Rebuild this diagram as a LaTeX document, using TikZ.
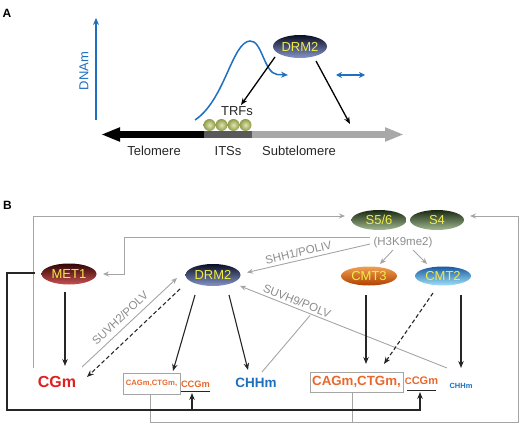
\documentclass[tikz,border=0pt]{standalone}
\usepackage{fontspec}
\setmainfont{Liberation Sans}
\usetikzlibrary{arrows.meta,shapes.geometric}
\definecolor{blueT}{HTML}{1E6FC0}
\definecolor{orangeT}{HTML}{E8682C}
\definecolor{redT}{HTML}{E02020}
\definecolor{grayL}{HTML}{A5A5A5}
\definecolor{grayT}{HTML}{8C8C8C}
\definecolor{darkL}{HTML}{262626}
\definecolor{yellowT}{HTML}{F2EC45}
\definecolor{itsgray}{HTML}{595959}
\definecolor{subgray}{HTML}{A8A8A8}
\definecolor{trfI}{HTML}{E2E6B0}
\definecolor{trfO}{HTML}{8E9A48}
\definecolor{txtA}{HTML}{262626}
\definecolor{drmT}{HTML}{0A0F25}\definecolor{drmM}{HTML}{1E2B55}\definecolor{drmB}{HTML}{8595C8}
\definecolor{metT}{HTML}{300505}\definecolor{metM}{HTML}{6E1414}\definecolor{metB}{HTML}{C85050}
\definecolor{grnT}{HTML}{1A2A12}\definecolor{grnM}{HTML}{3E5A2C}\definecolor{grnB}{HTML}{A0B890}
\definecolor{c3T}{HTML}{F0A050}\definecolor{c3M}{HTML}{E86A10}\definecolor{c3B}{HTML}{B04000}
\definecolor{c2T}{HTML}{1A5AA0}\definecolor{c2M}{HTML}{3A9AD8}\definecolor{c2B}{HTML}{A0E0F8}
\newcommand{\myfs}[1]{\fontsize{#1}{#1}\selectfont}
\tikzset{
  ell/.style={ellipse, inner sep=0pt, minimum width=55pt, minimum height=21pt, text=yellowT, font=\myfs{13}},
  drmshade/.style={top color=drmT, middle color=drmM, bottom color=drmB},
  metshade/.style={top color=metT, middle color=metM, bottom color=metB},
  grnshade/.style={top color=grnT, middle color=grnM, bottom color=grnB},
  cmt3shade/.style={top color=c3T, middle color=c3M, bottom color=c3B},
  cmt2shade/.style={top color=c2T, middle color=c2M, bottom color=c2B},
  ga/.style={draw=grayL, line width=0.9pt, -{Stealth[length=6pt,width=5pt]}},
  gl/.style={draw=grayL, line width=0.9pt},
  ba/.style={draw=darkL, line width=1.1pt, -{Stealth[length=7pt,width=5.5pt]}},
  bl/.style={draw=darkL, line width=1.1pt},
  dsh/.style={dash pattern=on 4pt off 2.5pt},
  lab/.style={text=grayT, font=\myfs{11.5}, inner sep=0pt},
  txt/.style={inner sep=0pt, font=\myfs{13}, text=txtA},
  blueline/.style={draw=blueT, line width=1.5pt},
  band/.style={line width=6.5pt},
}
\begin{document}
\begin{tikzpicture}[x=1pt,y=-1pt]
\useasboundingbox (0,0) rectangle (520,425);
% ---------------- Panel A ----------------
\node[font=\bfseries\myfs{12}, inner sep=0pt] (A) at (7,13.5) {A};
\coordinate (dnab) at (96,120);
\coordinate (dnat) at (96,18);
\draw[blueline, -{Stealth[length=7pt,width=6pt]}] (dnab) -- (dnat);
\node[txt, rotate=90, text=blueT] (dnam) at (84,71) {DNAm};
\coordinate (tel) at (101,134.5);
\coordinate (its1) at (204,134.5);
\coordinate (its2) at (252,134.5);
\coordinate (sub) at (404,134.5);
\draw[band, black, {Triangle[length=19pt,width=13pt]}-] (tel) -- (its1);
\draw[band, itsgray] (its1) -- (its2);
\draw[band, subgray, -{Triangle[length=19pt,width=13pt]}] (its2) -- (sub);
\foreach \i/\x in {1/209.5,2/221.5,3/233.5,4/245.5}
  \node[circle, shading=radial, inner color=trfI, outer color=trfO, minimum size=12pt, inner sep=0pt] (trf\i) at (\x,125) {};
\node[txt] (trfs) at (237,111) {TRFs};
\node[txt] (telo) at (154,151) {Telomere};
\node[txt] (itss) at (228,151) {ITSs};
\node[txt] (subt) at (299,151) {Subtelomere};
\node[ell, drmshade, minimum width=54pt, minimum height=23pt] (drmA) at (300,46.5) {DRM2};
\coordinate (cs) at (195,120);
\coordinate (ce) at (288,75);
\draw[blueline, -{Stealth[length=7pt,width=6pt]}] (cs) .. controls (225,100) and (232,42) .. (250,41) .. controls (262,40) and (264,73) .. (277,74.5) -- (ce);
\coordinate (dl) at (336,75);
\coordinate (dr) at (365,75);
\draw[blueline, {Stealth[length=6pt,width=6pt]}-{Stealth[length=6pt,width=6pt]}] (dl) -- (dr);
\coordinate (a1s) at (275,57);
\coordinate (a1e) at (241,105);
\coordinate (a2s) at (316,61);
\coordinate (a2e) at (350,124);
\draw[ba, black, line width=1.3pt] (a1s) -- (a1e);
\draw[ba, black, line width=1.3pt] (a2s) -- (a2e);
% ---------------- Panel B ----------------
\node[font=\bfseries\myfs{12}, inner sep=0pt] (B) at (7.5,205) {B};
\node[ell, metshade] (met1) at (69,274) {MET1};
\node[ell, drmshade, minimum height=22pt] (drm2) at (213,275) {DRM2};
\node[ell, grnshade, minimum height=20pt] (s56) at (379,220) {S5/6};
\node[ell, grnshade, minimum height=20pt, minimum width=54pt] (s4) at (437,220) {S4};
\node[ell, cmt3shade, minimum width=56pt, minimum height=19pt] (cmt3) at (369,276) {CMT3};
\node[ell, cmt2shade, minimum width=56pt, minimum height=19pt] (cmt2) at (443,276) {CMT2};
\node[lab] (h3) at (403,243) {(H3K9me2)};
\node[txt, font=\bfseries\myfs{16}, text=redT] (cgm) at (57,381.5) {CGm};
\node[txt, font=\bfseries\myfs{13.5}, text=blueT] (chhm) at (256,383) {CHHm};
\node[draw=grayL, line width=0.9pt, minimum width=57pt, minimum height=21pt, inner sep=0pt, text=orangeT, font=\bfseries\myfs{7.7}] (sbox) at (151.5,383.5) {CAGm,CTGm,};
\node[txt, text=orangeT, font=\bfseries\myfs{9.3}] (sccg) at (195.5,384) {CCGm};
\node[draw=grayL, line width=0.9pt, minimum width=93pt, minimum height=20pt, inner sep=0pt, text=orangeT, font=\bfseries\myfs{13.3}] (bbox) at (356.5,382) {CAGm,CTGm,};
\node[txt, text=orangeT, font=\bfseries\myfs{11}] (bccg) at (421.5,381) {{\myfs{9.5}C}CGm};
\node[txt, font=\bfseries\myfs{7.5}, text=blueT] (schh) at (461,385.5) {CHHm};
% underlines
\coordinate (su1) at (181,391.7);
\coordinate (su2) at (210,391.7);
\coordinate (bu1) at (407,390.5);
\coordinate (bu2) at (436,390.5);
\draw[bl, line width=1pt] (su1) -- (su2);
\draw[bl, line width=1pt] (bu1) -- (bu2);
% gray connectors
\coordinate (og1) at (33,368);
\coordinate (og2) at (33,216);
\coordinate (s56in) at (345,216);
\draw[ga] (og1) -- (og2) -- (s56in);
\coordinate (h3l) at (370,237.5);
\coordinate (h3c) at (124,237.5);
\coordinate (met1in) at (103,274);
\draw[ga] (h3l) -- (h3c) |- (met1in);
\coordinate (shs) at (370,244);
\coordinate (she) at (247,272.5);
\draw[ga] (shs) -- (she);
\node[lab, rotate=13.3] (shhlab) at (298.5,252.5) {SHH1/POLIV};
\coordinate (h3a1) at (393,250);
\coordinate (h3a1e) at (380,264);
\coordinate (h3a2) at (413,250);
\coordinate (h3a2e) at (427,264);
\draw[ga] (h3a1) -- (h3a1e);
\draw[ga] (h3a2) -- (h3a2e);
\coordinate (s9s) at (447,368);
\coordinate (s9e) at (240,286);
\draw[ga] (s9s) -- (s9e);
\node[lab, rotate=-21.6] (s9lab) at (297,301) {SUVH9/POLV};
\coordinate (chl1) at (262,372);
\coordinate (chl2) at (310,315.5);
\draw[gl] (chl1) -- (chl2);
\coordinate (s2s) at (82,367);
\coordinate (s2e) at (177,278);
\draw[ga] (s2s) -- (s2e);
\node[lab, rotate=43] (s2lab) at (120,318) {SUVH2/POLV};
% bottom gray loop
\coordinate (gb1) at (150,394);
\coordinate (gb2) at (150,422);
\coordinate (gb3) at (518,422);
\coordinate (gb4) at (518,216);
\coordinate (s4in) at (470,216);
\coordinate (gbb1) at (352,392);
\coordinate (gbb2) at (352,422);
\draw[ga] (gb1) -- (gb2) -- (gb3) -- (gb4) -- (s4in);
\draw[gl] (gbb1) -- (gbb2);
% black connectors
\coordinate (m1s) at (65,292);
\coordinate (m1e) at (65,366);
\draw[ba] (m1s) -- (m1e);
\coordinate (bl0) at (35,273);
\coordinate (bl1) at (7,273);
\coordinate (bl2) at (7,410);
\coordinate (bl3) at (420,410);
\coordinate (bl4) at (420,392);
\draw[ba] (bl0) -- (bl1) -- (bl2) -- (bl3) -- (bl4);
\coordinate (bs1) at (192,410);
\coordinate (bs2) at (192,393);
\draw[ba] (bs1) -- (bs2);
\coordinate (d1s) at (180,289);
\coordinate (d1e) at (87,377);
\draw[ba, dsh] (d1s) -- (d1e);
\coordinate (d2s) at (195,295);
\coordinate (d2e) at (173,371);
\draw[ba] (d2s) -- (d2e);
\coordinate (d3s) at (229,295);
\coordinate (d3e) at (248,370);
\draw[ba] (d3s) -- (d3e);
\coordinate (c3s) at (366,295);
\coordinate (c3e) at (366,364);
\draw[ba] (c3s) -- (c3e);
\coordinate (c2s) at (433,293);
\coordinate (c2e) at (384,364);
\draw[ba, dsh] (c2s) -- (c2e);
\coordinate (c2bs) at (461,295);
\coordinate (c2be) at (461,368);
\draw[ba] (c2bs) -- (c2be);
\end{tikzpicture}
\end{document}
